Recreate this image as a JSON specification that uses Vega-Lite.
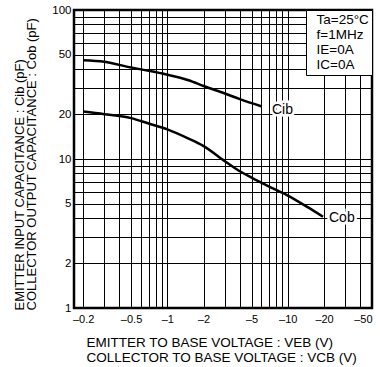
{
  "$schema": "https://vega.github.io/schema/vega-lite/v6.json",
  "width": 298,
  "height": 298,
  "autosize": {"type": "none"},
  "padding": {"left": 74, "top": 10, "right": 8, "bottom": 59},
  "background": "white",
  "config": {
    "view": {"stroke": "#000", "strokeWidth": 2.5},
    "font": "Liberation Sans"
  },
  "datasets": {
    "curves": [
      {"series": "Cib", "v": 0.2, "c": 46},
      {"series": "Cib", "v": 0.3, "c": 44.9},
      {"series": "Cib", "v": 0.5, "c": 41.1},
      {"series": "Cib", "v": 0.7, "c": 39.1},
      {"series": "Cib", "v": 1, "c": 36.8},
      {"series": "Cib", "v": 1.5, "c": 33.8},
      {"series": "Cib", "v": 2, "c": 30.9},
      {"series": "Cib", "v": 3, "c": 27.5},
      {"series": "Cib", "v": 4, "c": 25.2},
      {"series": "Cib", "v": 6.1, "c": 22.5},
      {"series": "Cob", "v": 0.2, "c": 20.8},
      {"series": "Cob", "v": 0.3, "c": 20.0},
      {"series": "Cob", "v": 0.5, "c": 18.8},
      {"series": "Cob", "v": 0.7, "c": 17.3},
      {"series": "Cob", "v": 1, "c": 15.8},
      {"series": "Cob", "v": 1.5, "c": 13.7},
      {"series": "Cob", "v": 2, "c": 12.2},
      {"series": "Cob", "v": 3, "c": 9.67},
      {"series": "Cob", "v": 4, "c": 8.27},
      {"series": "Cob", "v": 5, "c": 7.5},
      {"series": "Cob", "v": 7, "c": 6.53},
      {"series": "Cob", "v": 10, "c": 5.68},
      {"series": "Cob", "v": 14.5, "c": 4.77},
      {"series": "Cob", "v": 19.6, "c": 4.1}
    ],
    "conditions": [
      {"cond": "Ta=25°C"},
      {"cond": "f=1MHz"},
      {"cond": "IE=0A"},
      {"cond": "IC=0A"}
    ]
  },
  "layer": [
    {
      "data": {"name": "curves"},
      "mark": {"type": "line", "color": "#000", "strokeWidth": 2.5, "interpolate": "monotone"},
      "encoding": {
        "x": {
          "field": "v",
          "type": "quantitative",
          "scale": {"type": "log", "domain": [0.168, 50], "nice": false},
          "axis": {
            "values": [0.2, 0.3, 0.4, 0.5, 0.6, 0.7, 0.8, 0.9, 1, 2, 3, 4, 5, 6, 7, 8, 9, 10, 20, 30, 40, 50],
            "labelExpr": "(datum.value==0.2||datum.value==0.5||datum.value==1||datum.value==2||datum.value==5||datum.value==10||datum.value==20||datum.value==50) ? '–' + datum.value : ''",
            "labelOverlap": false,
            "labelFontSize": 11,
            "labelColor": "#000",
            "labelPadding": 5,
            "ticks": false,
            "domain": false,
            "grid": true,
            "gridColor": "#000",
            "gridOpacity": 1,
            "gridWidth": 1,
            "title": ["EMITTER TO BASE VOLTAGE : VEB (V)", "COLLECTOR TO BASE VOLTAGE : VCB (V)"],
            "titleFontSize": 13.5,
            "titleFontWeight": "normal",
            "titleColor": "#000",
            "titleAlign": "left",
            "titleBaseline": "top",
            "titleX": 12,
            "titleY": 27,
            "titleLineHeight": 15
          }
        },
        "y": {
          "field": "c",
          "type": "quantitative",
          "scale": {"type": "log", "domain": [1, 100], "nice": false},
          "axis": {
            "values": [1, 2, 3, 4, 5, 6, 7, 8, 9, 10, 20, 30, 40, 50, 60, 70, 80, 90, 100],
            "labelExpr": "(datum.value==1||datum.value==2||datum.value==5||datum.value==10||datum.value==20||datum.value==50||datum.value==100) ? '' + datum.value : ''",
            "labelOverlap": false,
            "labelFontSize": 11.5,
            "labelColor": "#000",
            "labelPadding": 3,
            "ticks": false,
            "domain": false,
            "grid": true,
            "gridColor": "#000",
            "gridOpacity": 1,
            "gridWidth": 1,
            "title": ["EMITTER INPUT CAPACITANCE : Cib (pF)", "COLLECTOR OUTPUT CAPACITANCE : Cob (pF)"],
            "titleFontSize": 13,
            "titleFontWeight": "normal",
            "titleColor": "#000",
            "titleAngle": 270,
            "titleAlign": "left",
            "titleBaseline": "top",
            "titleX": -61,
            "titleY": 300,
            "titleLineHeight": 12
          }
        },
        "detail": {"field": "series"}
      }
    },
    {
      "data": {"name": "curves"},
      "transform": [
        {"window": [{"op": "rank", "as": "r"}], "sort": [{"field": "v", "order": "descending"}], "groupby": ["series"]},
        {"filter": "datum.r == 1 && datum.series == 'Cib'"}
      ],
      "layer": [
        {"mark": {"type": "text", "align": "left", "baseline": "middle", "dx": 10, "dy": 3, "fontSize": 14, "stroke": "white", "strokeWidth": 5, "fill": "white"}},
        {"mark": {"type": "text", "align": "left", "baseline": "middle", "dx": 10, "dy": 3, "fontSize": 14, "fill": "#000"}}
      ],
      "encoding": {
        "x": {"field": "v", "type": "quantitative"},
        "y": {"field": "c", "type": "quantitative"},
        "text": {"field": "series"}
      }
    },
    {
      "data": {"name": "curves"},
      "transform": [
        {"window": [{"op": "rank", "as": "r"}], "sort": [{"field": "v", "order": "descending"}], "groupby": ["series"]},
        {"filter": "datum.r == 1 && datum.series == 'Cob'"}
      ],
      "layer": [
        {"mark": {"type": "text", "align": "left", "baseline": "middle", "dx": 6, "dy": 1, "fontSize": 14, "stroke": "white", "strokeWidth": 5, "fill": "white"}},
        {"mark": {"type": "text", "align": "left", "baseline": "middle", "dx": 6, "dy": 1, "fontSize": 14, "fill": "#000"}}
      ],
      "encoding": {
        "x": {"field": "v", "type": "quantitative"},
        "y": {"field": "c", "type": "quantitative"},
        "text": {"field": "series"}
      }
    },
    {
      "data": {"name": "conditions"},
      "mark": {"type": "point", "opacity": 0},
      "encoding": {
        "color": {
          "field": "cond",
          "type": "nominal",
          "sort": null,
          "scale": {"range": ["#000"]},
          "legend": {
            "orient": "top-right",
            "offset": 0,
            "title": null,
            "fillColor": "white",
            "strokeColor": "#000",
            "padding": 3,
            "rowPadding": 0,
            "symbolSize": 0.01,
            "symbolOpacity": 0,
            "symbolStrokeWidth": 0,
            "labelOffset": -6,
            "labelFontSize": 13.5,
            "labelColor": "#000",
            "labelLimit": 200
          }
        }
      }
    }
  ]
}
